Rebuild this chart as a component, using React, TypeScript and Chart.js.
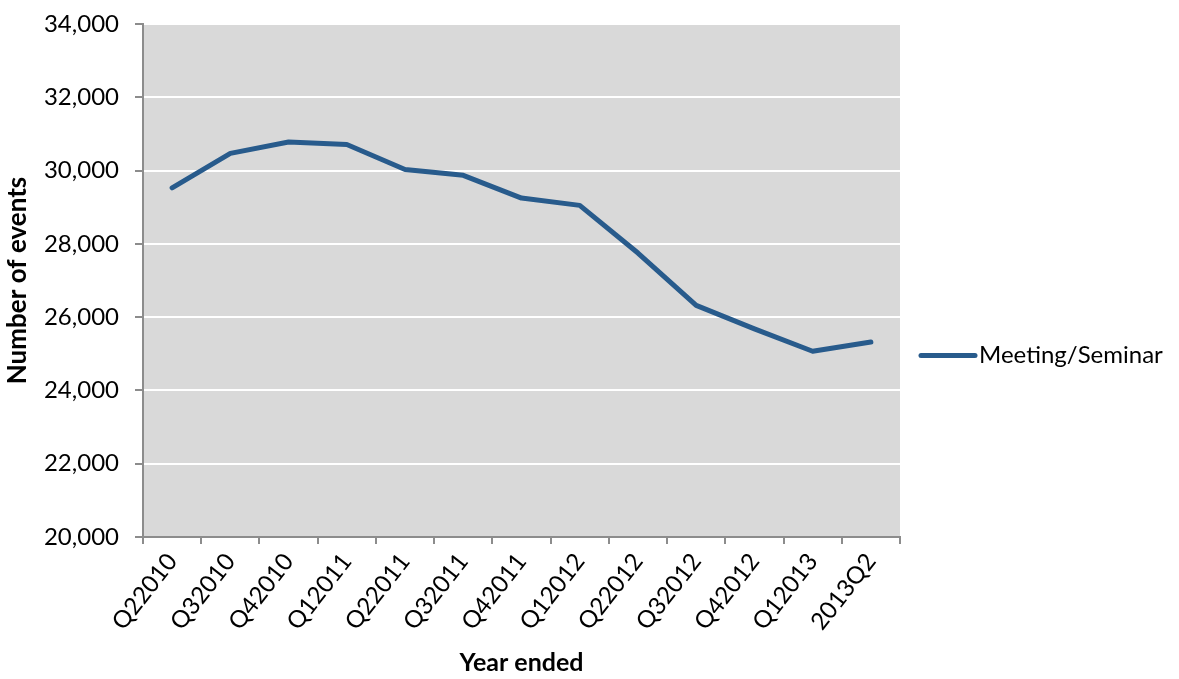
import React, { useEffect, useRef } from "react";
import { Chart, registerables } from "chart.js";

Chart.register(...registerables);

const categories = [
  "Q22010", "Q32010", "Q42010", "Q12011", "Q22011", "Q32011", "Q42011",
  "Q12012", "Q22012", "Q32012", "Q42012", "Q12013", "2013Q2",
];
const meetingSeminar = [
  29530, 30470, 30780, 30710, 30030, 29870, 29250, 29050, 27750, 26320, 25680, 25070, 25320,
];
const seriesLabel = "Meeting/Seminar";
const yMin = 20000;
const yMax = 34000;
const yStep = 2000;
const xTitle = "Year ended";
const yTitle = "Number of events";

const FONT = "Lato, 'Open Sans', sans-serif";
const LINE_COLOR = "#285B8C";

const plotBg = {
  id: "plotBg",
  beforeDraw(chart: any) {
    const { ctx, chartArea } = chart;
    if (!chartArea) return;
    ctx.save();
    ctx.fillStyle = "#D9D9D9";
    ctx.fillRect(chartArea.left, chartArea.top, chartArea.right - chartArea.left, chartArea.bottom - chartArea.top);
    ctx.restore();
  },
};

const sideLegend = {
  id: "sideLegend",
  afterDraw(chart: any) {
    const { ctx, chartArea } = chart;
    const ds = chart.data.datasets[0];
    const cy = (chartArea.top + chartArea.bottom) / 2 + 75;
    const x0 = chartArea.right + 21;
    const x1 = x0 + 54;
    ctx.save();
    ctx.strokeStyle = ds.borderColor;
    ctx.lineWidth = 5;
    ctx.lineCap = "round";
    ctx.beginPath();
    ctx.moveTo(x0, cy);
    ctx.lineTo(x1, cy);
    ctx.stroke();
    ctx.fillStyle = "#000";
    ctx.font = `24px ${FONT}`;
    ctx.textBaseline = "middle";
    ctx.textAlign = "left";
    ctx.fillText(ds.label, x1 + 4, cy);
    ctx.restore();
  },
};

export default function App() {
  const ref = useRef<HTMLCanvasElement | null>(null);
  useEffect(() => {
    if (!ref.current) return;
    const chart = new Chart(ref.current, {
      type: "line",
      data: {
        labels: categories,
        datasets: [
          {
            label: seriesLabel,
            data: meetingSeminar,
            borderColor: LINE_COLOR,
            backgroundColor: LINE_COLOR,
            borderWidth: 5,
            pointRadius: 0,
            tension: 0,
            borderJoinStyle: "round",
            borderCapStyle: "round",
          },
        ],
      },
      options: {
        animation: false,
        responsive: true,
        maintainAspectRatio: false,
        layout: { padding: { top: 24, right: 279, bottom: 0, left: 0 } },
        plugins: {
          legend: { display: false },
          tooltip: { enabled: false },
        },
        scales: {
          x: {
            type: "category",
            offset: true,
            grid: {
              offset: true,
              drawOnChartArea: false,
              drawTicks: true,
              tickLength: 7,
              color: "#8C8C8C",
              lineWidth: 2,
            },
            border: { color: "#8C8C8C", width: 2 },
            ticks: {
              minRotation: 52,
              maxRotation: 52,
              autoSkip: false,
              padding: 4,
              color: "#000",
              font: { family: FONT, size: 24 },
            },
            title: {
              display: true,
              text: xTitle,
              color: "#000",
              font: { family: FONT, size: 25, weight: "bold" },
              padding: { top: 4, bottom: 1 },
            },
            afterFit(scale: any) {
              scale.height = 142;
              scale.paddingLeft = 0;
              scale.paddingRight = 0;
            },
          },
          y: {
            min: yMin,
            max: yMax,
            grid: {
              color: "#FFFFFF",
              tickColor: "#8C8C8C",
              lineWidth: 2,
              drawTicks: true,
              tickLength: 8,
            },
            border: { color: "#8C8C8C", width: 2 },
            ticks: {
              stepSize: yStep,
              padding: 16,
              color: "#000",
              font: { family: FONT, size: 24 },
              callback: (v: any) => Number(v).toLocaleString("en-US"),
            },
            title: {
              display: true,
              text: yTitle,
              color: "#000",
              font: { family: FONT, size: 26, weight: "bold" },
              padding: { top: 2, bottom: 4 },
            },
            afterFit(scale: any) {
              scale.width = 143;
              scale.paddingTop = 0;
              scale.paddingBottom = 0;
            },
          },
        },
      },
      plugins: [plotBg, sideLegend],
    });
    return () => chart.destroy();
  }, []);
  return (
    <div style={{ position: "fixed", left: 0, top: 0, width: 1179, height: 679, background: "#fff" }}>
      <canvas ref={ref} />
    </div>
  );
}
